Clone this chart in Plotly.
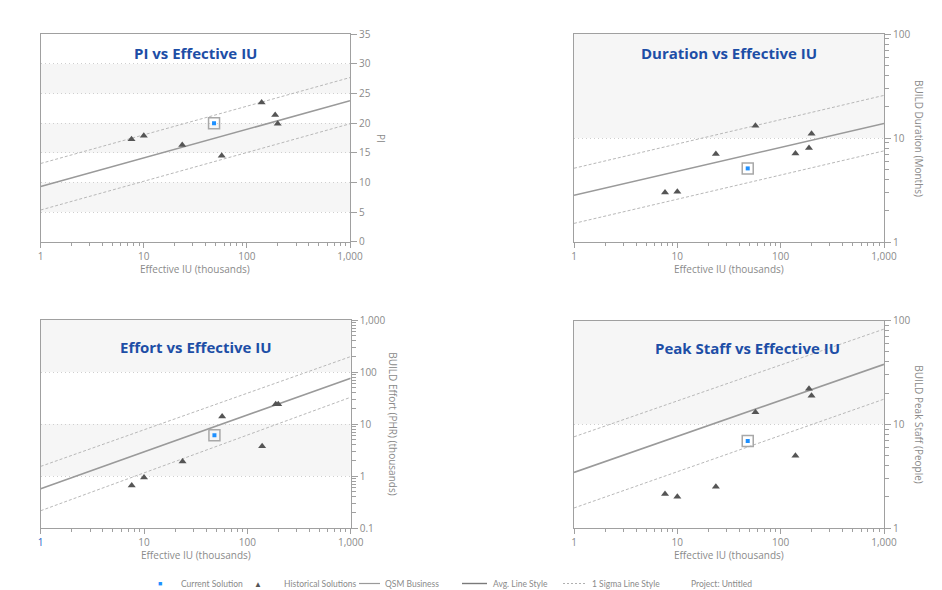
import plotly.graph_objects as go

# ---------------- data ----------------
hist_x = [7.6, 10, 23.6, 57, 139, 188, 199]
current_x = [48]

pi_hist = [17.3, 17.9, 16.3, 14.5, 23.5, 21.4, 19.9]
dur_hist = [3.0, 3.05, 7.0, 13.1, 7.1, 8.0, 11.0]
effort_hist = [0.66, 0.94, 1.9, 13.9, 3.75, 24, 24]
staff_hist = [2.13, 2.0, 2.5, 13.1, 4.97, 22, 18.9]

pi_current = [20]
dur_current = [5.1]
effort_current = [6.1]
staff_current = [6.9]

trend_x = [1, 1000]
pi_avg, pi_hi, pi_lo = [9.3, 23.8], [13.2, 27.7], [5.35, 19.9]
dur_avg, dur_hi, dur_lo = [2.81, 13.8], [5.12, 25.7], [1.51, 7.52]
eff_avg, eff_hi, eff_lo = [0.57, 75.9], [1.53, 198], [0.215, 32.7]
staff_avg, staff_hi, staff_lo = [3.44, 37.9], [7.58, 83], [1.56, 17.5]

pi_bands = [(5, 10), (15, 20), (25, 30)]
dur_bands = [(10, 100)]
eff_bands = [(1, 10), (100, 1000)]
staff_bands = [(10, 100)]

x_ticks = [1, 10, 100, 1000]
x_ticktext = ["1", "10", "100", "1,000"]
pi_ticks = [0, 5, 10, 15, 20, 25, 30, 35]
dur_ticks = [1, 10, 100]
eff_ticks = [0.1, 1, 10, 100, 1000]
eff_ticktext = ["0.1", "1", "10", "100", "1,000"]
staff_ticks = [1, 10, 100]

titles = ["PI vs Effective IU", "Duration vs Effective IU",
          "Effort vs Effective IU", "Peak Staff vs Effective IU"]
y_titles = ["PI", "BUILD Duration (Months)",
            "BUILD Effort (PHR) (thousands)", "BUILD Peak Staff (People)"]
x_title = "Effective IU (thousands)"

# ---------------- style ----------------
W, H = 942, 590
FONT = "Open Sans"
TICKC = "#8a8a8a"
AXC = "#a0a0a0"
GRIDC = "#cfcfcf"
BANDC = "#f6f6f6"
TITLEC = "#1d4ea6"
TRI_C = "#555555"
AVG_C = "#9a9a9a"
SIG_C = "#b8b8b8"
BLUE = "#1e90ff"

# panel pixel boxes (left, right, top, bottom)
boxes = [(40.7, 350, 34.3, 241.7), (574, 884, 34, 242),
         (40.7, 350.7, 320, 528), (574, 884, 320.7, 528)]
ytitle_offsets = [31, 35, 42, 35]

def px_x(v):
    return v / W

def px_y(v):
    return 1 - v / H

fig = go.Figure()

panels = [
    dict(hist=pi_hist, cur=pi_current, avg=pi_avg, hi=pi_hi, lo=pi_lo, bands=pi_bands,
         ytype="linear", yrange=[0, 35], ticks=pi_ticks, ticktext=[str(t) for t in pi_ticks]),
    dict(hist=dur_hist, cur=dur_current, avg=dur_avg, hi=dur_hi, lo=dur_lo, bands=dur_bands,
         ytype="log", yrange=[0, 2], ticks=dur_ticks, ticktext=["1", "10", "100"]),
    dict(hist=effort_hist, cur=effort_current, avg=eff_avg, hi=eff_hi, lo=eff_lo, bands=eff_bands,
         ytype="log", yrange=[-1, 3], ticks=eff_ticks, ticktext=eff_ticktext),
    dict(hist=staff_hist, cur=staff_current, avg=staff_avg, hi=staff_hi, lo=staff_lo, bands=staff_bands,
         ytype="log", yrange=[0, 2], ticks=staff_ticks, ticktext=["1", "10", "100"]),
]

def log_minor(lo_exp, hi_exp):
    vals = []
    for e in range(lo_exp, hi_exp):
        for m in range(2, 10):
            vals.append(m * 10 ** e)
    return vals

annotations = []
shapes = []

for i, p in enumerate(panels):
    n = "" if i == 0 else str(i + 1)
    xa, ya = "x" + n, "y" + n
    l, r, t, b = boxes[i]

    for (b0, b1) in p["bands"]:
        shapes.append(dict(type="rect", xref=xa + " domain", yref=ya, x0=0, x1=1,
                           y0=b0, y1=b1, fillcolor=BANDC, line=dict(width=0), layer="below"))

    fig.add_trace(go.Scatter(x=trend_x, y=p["hi"], mode="lines", xaxis=xa, yaxis=ya,
                             line=dict(color=SIG_C, width=1, dash="3px,2px"), showlegend=False,
                             hoverinfo="skip"))
    fig.add_trace(go.Scatter(x=trend_x, y=p["lo"], mode="lines", xaxis=xa, yaxis=ya,
                             line=dict(color=SIG_C, width=1, dash="3px,2px"), showlegend=False,
                             hoverinfo="skip"))
    fig.add_trace(go.Scatter(x=trend_x, y=p["avg"], mode="lines", xaxis=xa, yaxis=ya,
                             line=dict(color=AVG_C, width=1.6), showlegend=False, hoverinfo="skip"))
    fig.add_trace(go.Scatter(x=hist_x, y=p["hist"], mode="markers", xaxis=xa, yaxis=ya,
                             marker=dict(symbol="triangle-up", size=7, color=TRI_C),
                             showlegend=False))
    fig.add_trace(go.Scatter(x=current_x, y=p["cur"], mode="markers", xaxis=xa, yaxis=ya,
                             marker=dict(symbol="square-open", size=11, color="#a8a8a8",
                                         line=dict(width=1.5, color="#a8a8a8")),
                             showlegend=False, hoverinfo="skip"))
    fig.add_trace(go.Scatter(x=current_x, y=p["cur"], mode="markers", xaxis=xa, yaxis=ya,
                             marker=dict(symbol="square", size=4, color=BLUE),
                             showlegend=False))

    x_tt = list(x_ticktext)
    if i == 2:
        x_tt[0] = "<span style='color:#2a64c8'>1</span>"

    xaxis = dict(type="log", range=[0, 3], domain=[px_x(l), px_x(r)], anchor=ya,
                 automargin=False,
                 tickvals=x_ticks, ticktext=x_tt, ticks="outside", ticklen=5, tickcolor=AXC,
                 tickfont=dict(size=10, color=TICKC, family=FONT),
                 showline=True, linecolor=AXC, linewidth=1, mirror=True,
                 showgrid=False, zeroline=False,
                 minor=dict(tickvals=log_minor(0, 3), ticks="outside", ticklen=3,
                            tickcolor=AXC, showgrid=False))
    yaxis = dict(type=p["ytype"], range=p["yrange"], domain=[px_y(b), px_y(t)], anchor=xa,
                 automargin=False,
                 side="right", tickvals=p["ticks"], ticktext=p["ticktext"],
                 ticks="outside", ticklen=6, tickcolor=AXC,
                 tickfont=dict(size=10, color=TICKC, family=FONT),
                 showline=True, linecolor=AXC, linewidth=1, mirror=True,
                 showgrid=True, gridcolor=GRIDC, griddash="1px,3px", gridwidth=1, zeroline=False)
    if p["ytype"] == "log":
        lo_e, hi_e = p["yrange"]
        yaxis["minor"] = dict(tickvals=log_minor(lo_e, hi_e), ticks="outside", ticklen=4,
                              tickcolor=AXC, showgrid=False)
    fig.update_layout(**{"xaxis" + n: xaxis, "yaxis" + n: yaxis})

    tx = (l + r) / 2 + (18 if i == 3 else 0)
    ty = t + (19 if i < 2 else 27)
    annotations.append(dict(text="<b>" + titles[i] + "</b>", xref="paper", yref="paper",
                            x=px_x(tx), y=px_y(ty), showarrow=False,
                            font=dict(size=15, color=TITLEC, family=FONT),
                            xanchor="center", yanchor="middle"))
    annotations.append(dict(text=x_title, xref="paper", yref="paper",
                            x=px_x((l + r) / 2), y=px_y(b + 27), showarrow=False,
                            font=dict(size=10, color=TICKC, family=FONT),
                            xanchor="center", yanchor="middle"))
    annotations.append(dict(text=y_titles[i], xref="paper", yref="paper",
                            x=px_x(r + ytitle_offsets[i]), y=px_y((t + b) / 2),
                            showarrow=False, textangle=90,
                            font=dict(size=10, color=TICKC, family=FONT),
                            xanchor="center", yanchor="middle"))

# ---------------- legend row ----------------
LY = 583.5
leg_font = dict(size=8.5, color=TICKC, family="Lato")
legend_items = [
    ("■", 160, dict(size=7, color=BLUE, family=FONT)),
    ("Current Solution", 180, leg_font),
    ("▲", 258, dict(size=8, color=TRI_C, family=FONT)),
    ("Historical Solutions", 283, leg_font),
    ("QSM Business", 384, leg_font),
    ("Avg. Line Style", 492, leg_font),
    ("1 Sigma Line Style", 591, leg_font),
    ("Project: Untitled", 690, leg_font),
]
for text, xp, f in legend_items:
    anchor = "center" if len(text) == 1 else "left"
    annotations.append(dict(text=text, xref="paper", yref="paper", x=px_x(xp), y=px_y(LY),
                            showarrow=False, font=f, xanchor=anchor, yanchor="middle",
                            borderpad=0))
for (x0, x1, col, dash, w) in [(359, 380, "#9a9a9a", "solid", 1.2),
                               (462, 487, "#7a7a7a", "solid", 1.4),
                               (563, 586, "#b0b0b0", "2px,2px", 1)]:
    shapes.append(dict(type="line", xref="paper", yref="paper", x0=px_x(x0), x1=px_x(x1),
                       y0=px_y(LY), y1=px_y(LY), line=dict(color=col, dash=dash, width=w)))

fig.update_layout(width=W, height=H, margin=dict(l=0, r=0, t=0, b=0, autoexpand=False),
                  paper_bgcolor="white", plot_bgcolor="white",
                  font=dict(family=FONT), showlegend=False,
                  annotations=annotations, shapes=shapes)

fig.write_html("out.html", config={"displayModeBar": False},
               post_script="document.body.style.margin='0px';document.body.style.overflow='hidden';")
